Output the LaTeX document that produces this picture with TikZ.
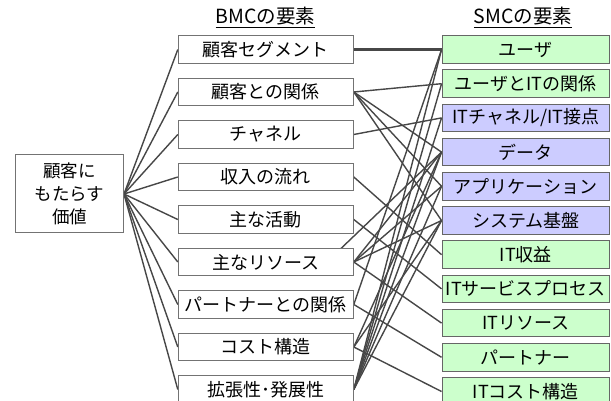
\documentclass[tikz,border=0pt]{standalone}
\usepackage{fontspec}
\setmainfont{Noto Sans CJK JP}
\pgfdeclarelayer{bg}
\pgfsetlayers{bg,main}
\begin{document}
\begin{tikzpicture}[x=1pt,y=-1pt,
  box/.style={draw=black!55,line width=1pt,fill=white,minimum height=27.5pt,inner sep=0pt,font=\fontsize{18}{20}\selectfont},
  bmc/.style={box,minimum width=175pt},
  smcg/.style={box,draw=black!60,minimum width=167.5pt,fill=green!20},
  smcp/.style={box,draw=black!60,minimum width=167.5pt,fill=blue!20},
  con/.style={draw=black!72,line width=1.4pt},
  thickcon/.style={draw=black!72,line width=2.6pt},
  hdr/.style={font=\fontsize{19.5}{21}\selectfont,inner sep=0pt}]
\useasboundingbox (0,0) rectangle (611,401);
% headers
\node[hdr] (hb) at (265.5,17.5) {\underline{BMCの要素}};
\node[hdr] (hs) at (523,17.5) {\underline{SMCの要素}};
% left box
\node[box,minimum width=108pt,minimum height=78pt,align=center,font=\fontsize{17.5}{23}\selectfont] (v) at (69.5,194) {顧客に\\もたらす\\価値};
% BMC column
\node[bmc] (b1) at (265.8,49.5) {顧客セグメント};
\node[bmc] (b2) at (265.8,92) {顧客との関係};
\node[bmc] (b3) at (265.8,134.5) {チャネル};
\node[bmc] (b4) at (265.8,177) {収入の流れ};
\node[bmc] (b5) at (265.8,219.5) {主な活動};
\node[bmc] (b6) at (265.8,262) {主なリソース};
\node[bmc] (b7) at (265.8,304.5) {パートナーとの関係};
\node[bmc] (b8) at (265.8,347) {コスト構造};
\node[bmc] (b9) at (265.8,389.5) {拡張性･発展性};
% SMC column
\node[smcg] (s1) at (525.8,49.5) {ユーザ};
\node[smcg] (s2) at (525.8,83.7) {ユーザとITの関係};
\node[smcp] (s3) at (525.8,117.9) {ITチャネル/IT接点};
\node[smcp] (s4) at (525.8,152.1) {データ};
\node[smcp] (s5) at (525.8,186.3) {アプリケーション};
\node[smcp] (s6) at (525.8,220.5) {システム基盤};
\node[smcg] (s7) at (525.8,254.7) {IT収益};
\node[smcg] (s8) at (525.8,288.9) {ITサービスプロセス};
\node[smcg] (s9) at (525.8,323.1) {ITリソース};
\node[smcg] (s10) at (525.8,357.3) {パートナー};
\node[smcg] (s11) at (525.8,391.5) {ITコスト構造};
\coordinate (hid) at (320,268.6);
\begin{pgfonlayer}{bg}
% left fan
\foreach \n in {b1,b2,b3,b4,b5,b6,b7,b8,b9}
  \draw[con] (v.east) -- (\n.west);
% BMC -> SMC
\draw[thickcon] (b1.east) -- (s1.west);
\foreach \a/\b in {b2/s2,b2/s4,b2/s5,b2/s6,b3/s3,b4/s7,b5/s8,
  b6/s4,b6/s5,b6/s6,b6/s9,b7/s10,b7/s1,b8/s11,b8/s4,b8/s6,
  b9/s1,b9/s2,b9/s3,b9/s4,b9/s5,b9/s6}
  \draw[con] (\a.east) -- (\b.west);
\draw[con] (hid) -- (s4.west);
\end{pgfonlayer}
\end{tikzpicture}
\end{document}
